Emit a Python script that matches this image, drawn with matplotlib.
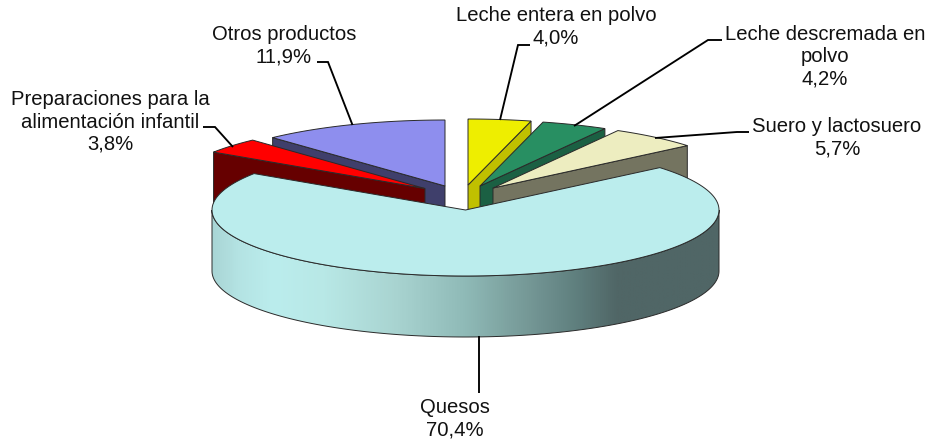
import numpy as np
import matplotlib
matplotlib.use("Agg")
import matplotlib.pyplot as plt
from matplotlib.colors import LinearSegmentedColormap
from matplotlib.patches import Polygon

# Data (clockwise from 12 o'clock)
categories = ["Leche entera en polvo", "Leche descremada en\npolvo", "Suero y lactosuero",
              "Quesos", "Preparaciones para la\nalimentación infantil", "Otros productos"]
shares = [4.0, 4.2, 5.7, 70.4, 3.8, 11.9]
share_labels = ["4,0%", "4,2%", "5,7%", "70,4%", "3,8%", "11,9%"]

# Styling / layout
top_colors = ["#EEEE00", "#288F62", "#EDEDC0", "#BBEDED", "#FF0000", "#8E8EEE"]
side_colors = ["#C0C000", "#1B6043", "#747460", "#506666", "#660000", "#3F3F6B"]
centers = [(468, 185), (480, 186), (493, 188), (465.5, 210), (425, 188.5), (445, 186)]
draw_order = [5, 4, 0, 1, 2, 3]
label_pos = [(556, 27), (825, 57), (837, 138), (455, 419), (110, 122), (284, 45.5)]
leaders = [[(530, 45), (518, 45), (500, 120)],
           [(722, 40), (708, 40), (574, 126)],
           [(749, 132), (737, 132), (655, 138)],
           [(479, 336), (479, 393)],
           [(203, 127), (215, 127), (233, 147)],
           [(317, 62), (328, 62), (352.5, 125)]]
RX, RY, DEPTH = 253.5, 66, 61
EDGE = "#2a2a2a"

plt.rcParams["font.family"] = ["Liberation Sans", "DejaVu Sans"]
fig = plt.figure(figsize=(9.31, 4.41), dpi=100)
ax = fig.add_axes([0, 0, 1, 1])


def rim(cx, cy, t0, t1, dy=0.0, n=160):
    t = np.radians(np.linspace(t0, t1, n))
    return np.column_stack([cx + RX * np.sin(t), cy - RY * np.cos(t) + dy])


edges = np.concatenate([[0], np.cumsum(shares)]) / sum(shares) * 360
side_cmap = LinearSegmentedColormap.from_list("side", [
    (0.00, "#A9D5D5"), (0.05, "#B4E3E3"), (0.12, "#BBEDED"), (0.22, "#B8E8E6"),
    (0.36, "#A9D4D1"), (0.50, "#8FBAB7"), (0.62, "#769997"), (0.72, "#5F7F7E"),
    (0.80, "#506666"), (1.00, "#506666")])

z = 1
for i in draw_order:
    cx, cy = centers[i]
    t0, t1 = edges[i], edges[i + 1]
    if i == 3:
        # outer wall of the large slice, shaded from left to right
        wall = np.vstack([rim(cx, cy, 90, 270), rim(cx, cy, 270, 90, DEPTH)])
        poly = Polygon(wall, closed=True, facecolor="none", edgecolor=EDGE, lw=0.7, zorder=z + 1)
        im = ax.imshow(np.linspace(0, 1, 512)[None, :], cmap=side_cmap, aspect="auto",
                       extent=(cx - RX, cx + RX, cy + RY + DEPTH + 2, cy - 2),
                       zorder=z, vmin=0, vmax=1)
        ax.add_patch(poly)
        im.set_clip_path(poly)
        z += 2
    else:
        # visible radial wall
        tip = t1 if i in (0, 1, 2) else t0
        p = rim(cx, cy, tip, tip, n=1)[0]
        quad = [(cx, cy), tuple(p), (p[0], p[1] + DEPTH), (cx, cy + DEPTH)]
        ax.add_patch(Polygon(quad, closed=True, facecolor=side_colors[i], edgecolor=EDGE,
                             lw=0.7, zorder=z))
        z += 1
    outline = np.vstack([[(cx, cy)], rim(cx, cy, t0, t1)])
    ax.add_patch(Polygon(outline, closed=True, facecolor=top_colors[i], edgecolor=EDGE,
                         lw=0.7, zorder=z))
    z += 1

for i, cat in enumerate(categories):
    pts = np.array(leaders[i])
    ax.plot(pts[:, 0], pts[:, 1], color="black", lw=1.35, zorder=z,
            solid_joinstyle="miter", solid_capstyle="butt")
    ax.text(label_pos[i][0], label_pos[i][1], f"{cat}\n{share_labels[i]}", ha="center",
            va="center", multialignment="center", fontsize=14.6, color="#111111",
            linespacing=1.22, zorder=z + 1)

ax.set_xlim(0, 931)
ax.set_ylim(441, 0)
ax.axis("off")
fig.savefig("out.png", dpi=100, facecolor="white")
